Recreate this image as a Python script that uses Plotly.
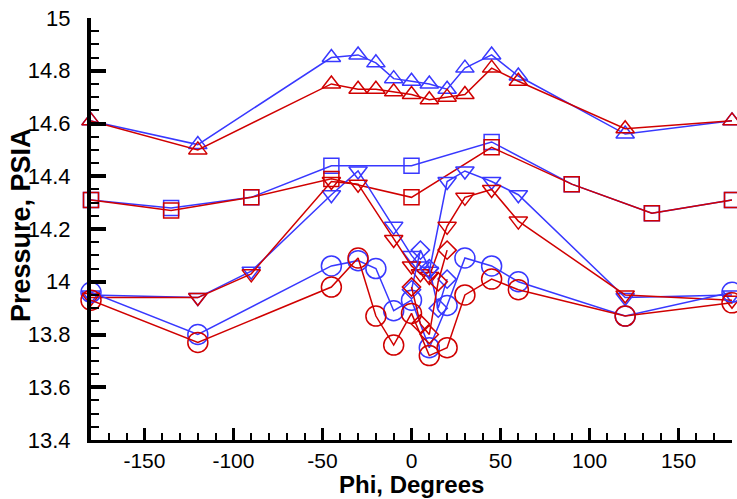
import plotly.graph_objects as go

# phi stations (degrees) and pressures (PSIA)
phi_up = [-180, -120, -45, -30, -20, -10, 0, 10, 20, 30, 45, 60, 120, 180]
up_blue = [14.61, 14.52, 14.85, 14.86, 14.83, 14.77, 14.76, 14.75, 14.73, 14.81, 14.86, 14.78, 14.56, 14.61]
up_red = [14.61, 14.50, 14.75, 14.73, 14.73, 14.72, 14.71, 14.69, 14.70, 14.71, 14.81, 14.76, 14.58, 14.61]

phi_sq = [-180, -135, -90, -45, 0, 45, 90, 135, 180]
sq_blue = [14.31, 14.28, 14.32, 14.44, 14.44, 14.53, 14.37, 14.26, 14.31]
sq_red = [14.31, 14.27, 14.32, 14.39, 14.32, 14.51, 14.37, 14.26, 14.31]

phi_dn = [-180, -120, -90, -45, -30, -10, 0, 5, 10, 20, 30, 45, 60, 120, 180]
dn_blue = [13.95, 13.94, 14.04, 14.33, 14.42, 14.21, 14.10, 14.06, 14.04, 14.38, 14.42, 14.38, 14.33, 13.94, 13.95]
dn_red = [13.94, 13.94, 14.03, 14.38, 14.37, 14.16, 14.06, 14.03, 14.02, 14.21, 14.32, 14.35, 14.23, 13.95, 13.93]

phi_ci = [-180, -120, -45, -30, -20, -10, 0, 10, 20, 30, 45, 60, 120, 180]
ci_blue = [13.96, 13.80, 14.06, 14.08, 14.05, 13.89, 13.93, 13.75, 13.91, 14.09, 14.06, 14.00, 13.87, 13.96]
ci_red = [13.93, 13.77, 13.98, 14.09, 13.87, 13.76, 13.88, 13.72, 13.75, 13.95, 14.01, 13.97, 13.87, 13.92]

phi_dm = [0, 5, 10, 15, 20]
dm_blue = [13.97, 14.12, 14.05, 13.90, 14.01]
dm_red = [13.98, 13.84, 13.80, 14.00, 14.12]

x_ticks = [-150, -100, -50, 0, 50, 100, 150]
x_labels = ["-150", "-100", "-50", "0", "50", "100", "150"]
y_ticks = [13.4, 13.6, 13.8, 14, 14.2, 14.4, 14.6, 14.8, 15]
y_labels = ["13.4", "13.6", "13.8", "14", "14.2", "14.4", "14.6", "14.8", "15"]

BLUE = "#3838ff"
RED = "#d00000"


def make_trace(x, y, color, symbol, size):
    return go.Scatter(
        x=x, y=y, mode="lines+markers", cliponaxis=False, showlegend=False,
        line=dict(color=color, width=1.5),
        marker=dict(symbol=symbol, size=size, color=color,
                    line=dict(color=color, width=1.5)),
    )


series = [
    (phi_up, up_blue, up_red, "triangle-up-open", 16),
    (phi_sq, sq_blue, sq_red, "square-open", 15),
    (phi_dn, dn_blue, dn_red, "triangle-down-open", 16),
    (phi_ci, ci_blue, ci_red, "circle-open", 20),
    (phi_dm, dm_blue, dm_red, "diamond-open", 14),
]

fig = go.Figure()
for x, yb, yr, sym, sz in series:
    fig.add_trace(make_trace(x, yb, BLUE, sym, sz))
    fig.add_trace(make_trace(x, yr, RED, sym, sz))

font = "Liberation Sans, Arial, sans-serif"
fig.update_layout(
    width=737, height=499,
    margin=dict(l=91, r=5, t=18, b=59),
    plot_bgcolor="white", paper_bgcolor="white",
    font=dict(family=font, color="black"),
)
fig.update_xaxes(
    range=[-180, 180], tickvals=x_ticks, ticktext=x_labels,
    ticks="inside", ticklen=12, tickwidth=3, tickcolor="black",
    showline=True, linewidth=3, linecolor="black", showgrid=False, zeroline=False,
    tickfont=dict(size=21, family=font), ticklabelstandoff=0,
    minor=dict(dtick=10, ticks="inside", ticklen=7, tickwidth=1.5, tickcolor="black", showgrid=False),
)
fig.update_yaxes(
    range=[13.4, 15], tickvals=y_ticks, ticktext=y_labels,
    ticks="inside", ticklen=15, tickwidth=4, tickcolor="black",
    showline=True, linewidth=4, linecolor="black", showgrid=False, zeroline=False,
    tickfont=dict(size=22, family=font), ticklabelstandoff=12,
    minor=dict(dtick=0.05, ticks="inside", ticklen=8, tickwidth=1.5, tickcolor="black", showgrid=False),
)

# axis titles placed as annotations so they sit where the reference has them
fig.add_annotation(text="<b>Phi, Degrees</b>", xref="paper", yref="paper", x=0.5, y=0,
                   xanchor="center", yanchor="middle", yshift=-44, showarrow=False,
                   font=dict(size=24, family=font))
fig.add_annotation(text="<b>Pressure, PSIA</b>", xref="paper", yref="paper", x=0, y=0.5,
                   xanchor="center", yanchor="middle", xshift=-70, yshift=4, textangle=-90,
                   showarrow=False, font=dict(size=27, family=font))

fig.write_html("out.html", config={"displayModeBar": False},
               post_script="document.body.style.margin='0';")
